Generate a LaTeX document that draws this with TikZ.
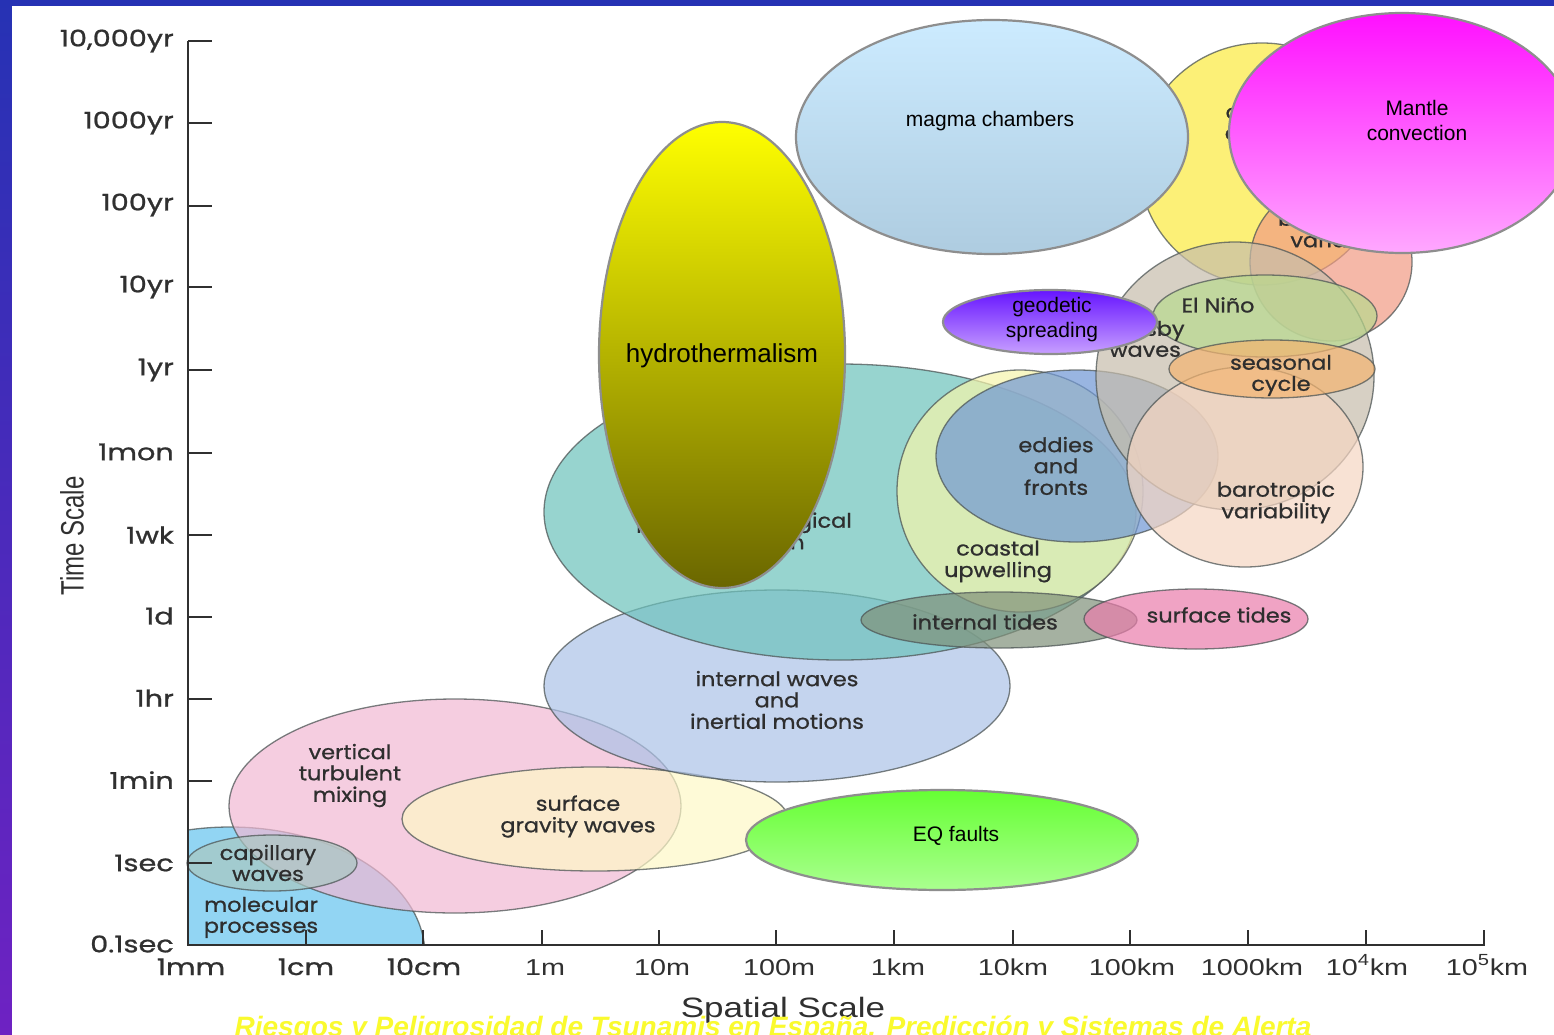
\documentclass[tikz,border=0pt]{standalone}
\usepackage{fontspec}
\setmainfont{Liberation Sans}
\newfontfamily\popfont[FakeBold=0.8]{Poppins}
\usepackage{graphicx}
\definecolor{bordtop}{HTML}{2632B4}
\definecolor{bordbot}{HTML}{6E22C2}
\definecolor{cMol}{HTML}{92D5F3}
\definecolor{cPink}{HTML}{F1B8D3}
\definecolor{cCream}{HTML}{FEF9C7}
\definecolor{cCap}{HTML}{AAC8C1}
\definecolor{cIW}{HTML}{ACC2E7}
\definecolor{cTeal}{HTML}{6CC2BC}
\definecolor{cCoast}{HTML}{F6F5AB}
\definecolor{cEddy}{HTML}{6F97D5}
\definecolor{cIT}{HTML}{80917A}
\definecolor{cST}{HTML}{EA7DAB}
\definecolor{cYel}{HTML}{FCEB3E}
\definecolor{cSalm}{HTML}{F19B84}
\definecolor{cRoss}{HTML}{C7BDAB}
\definecolor{cBaro}{HTML}{F6D6C2}
\definecolor{cNino}{HTML}{B8DA8E}
\definecolor{cSeas}{HTML}{F4B470}
\definecolor{olc}{HTML}{4E5656}
\definecolor{labc}{HTML}{2E2E2E}
\definecolor{axc}{HTML}{303030}
\definecolor{geoline}{HTML}{8E8E8E}
\definecolor{footyel}{HTML}{FAFA2E}
\newcommand{\ocs}[1]{\scalebox{1.12}[1]{\begin{tabular}{@{}c@{}}#1\end{tabular}}}
\newcommand{\axs}[1]{\scalebox{1.25}[1]{#1}}
\newcommand{\axl}[1]{\scalebox{1.25}[1]{#1}}
\begin{document}
\begin{tikzpicture}[x=1pt,y=-1pt,
  ocean/.style={draw=olc, draw opacity=0.75, line width=1.3pt, fill opacity=0.7},
  geo/.style={draw=geoline, line width=2.2pt},
  olab/.style={font=\popfont\fontsize{20}{21}\selectfont, text=labc, inner sep=0pt, align=center},
  ylab/.style={font=\popfont\fontsize{23}{25}\selectfont, text=axc, anchor=east, inner sep=0pt},
  xlabp/.style={font=\popfont\fontsize{23}{25}\selectfont, text=axc, anchor=base, inner sep=0pt},
  xlabl/.style={font=\fontsize{23}{25}\selectfont, text=axc, anchor=base, inner sep=0pt},
  glab/.style={font=\fontsize{21}{25}\selectfont, text=black, align=center, inner sep=0pt},
  axisline/.style={draw=axc, line width=2.4pt},
  tickline/.style={draw=axc, line width=2pt}]
\useasboundingbox (0,0) rectangle (1554,1035);
% frame
\shade[top color=bordtop, bottom color=bordbot] (0,0) rectangle (1554,1035);
\fill[white] (12,6) rectangle (1554,1035);

% ---- ocean scales ----
\begin{scope}
  \clip (188,600) rectangle (700,945);
  \path[ocean, fill=cMol, fill opacity=1] (230,955) ellipse [x radius=195pt, y radius=128pt];
\end{scope}
\path[ocean, fill=cPink]  (455,806) ellipse [x radius=226pt, y radius=107pt];
\path[ocean, fill=cCream] (595,819) ellipse [x radius=193pt, y radius=52pt];
\path[ocean, fill=cCap]   (272,863) ellipse [x radius=85pt, y radius=28pt];
\path[ocean, fill=cIW]    (777,686) ellipse [x radius=233pt, y radius=96pt];
\path[ocean, fill=cTeal]  (840,512) ellipse [x radius=296pt, y radius=148pt];
\path[ocean, fill=cCoast] (1020,491) ellipse [x radius=123pt, y radius=121pt];
\path[ocean, fill=cEddy]  (1077,456) ellipse [x radius=141pt, y radius=86pt];
\path[ocean, fill=cIT]    (999,620) ellipse [x radius=138pt, y radius=28pt];
\path[ocean, fill=cST]    (1196,619) ellipse [x radius=112pt, y radius=30pt];
\path[ocean, fill=cYel]   (1262,164) ellipse [x radius=123pt, y radius=121pt];
\path[ocean, fill=cSalm]  (1331,262) ellipse [x radius=81pt, y radius=79pt];
\path[ocean, fill=cRoss]  (1235,376) ellipse [x radius=139pt, y radius=134pt];
\path[ocean, fill=cBaro]  (1245,467) ellipse [x radius=118pt, y radius=100pt];
\path[ocean, fill=cNino]  (1265,316) ellipse [x radius=112pt, y radius=41pt];
\path[ocean, fill=cSeas]  (1272,369) ellipse [x radius=103pt, y radius=29pt];

% ---- axes ----
\draw[axisline] (188,41) -- (188,945) -- (1485,945);
\foreach \yy in {41,123,206,287,370,453,535,617,699,781,863}
  \draw[tickline] (188,\yy) -- (212,\yy);
\foreach \xx in {306,423,542,659,776,894,1013,1130,1248,1366,1484}
  \draw[tickline] (\xx,945) -- (\xx,930);

\node[ylab] (y10k) at (174,41)  {\axs{10,000yr}};
\node[ylab] (y1k)  at (174,123) {\axs{1000yr}};
\node[ylab] (y100) at (174,205) {\axs{100yr}};
\node[ylab] (y10)  at (174,287) {\axs{10yr}};
\node[ylab] (y1)   at (174,370) {\axs{1yr}};
\node[ylab] (ymon) at (174,452) {\axs{1mon}};
\node[ylab] (ywk)  at (174,535) {\axs{1wk}};
\node[ylab] (yd)   at (174,616) {\axs{1d}};
\node[ylab] (yhr)  at (174,698) {\axs{1hr}};
\node[ylab] (ymin) at (174,780) {\axs{1min}};
\node[ylab] (ysec) at (174,863) {\axs{1sec}};
\node[ylab] (ys01) at (174,944) {\axs{0.1sec}};

\node[xlabp] (xmm)  at (191,975)  {\axs{1mm}};
\node[xlabp] (xcm)  at (306,975)  {\axs{1cm}};
\node[xlabp] (x10cm) at (424,975) {\axs{10cm}};
\node[xlabl] (xm)   at (545,975)  {\axl{1m}};
\node[xlabl] (x10m) at (662,975)  {\axl{10m}};
\node[xlabl] (x100m) at (779,975) {\axl{100m}};
\node[xlabl] (xkm)  at (898,975)  {\axl{1km}};
\node[xlabl] (x10km) at (1013,975) {\axl{10km}};
\node[xlabl] (x100km) at (1132,975) {\axl{100km}};
\node[xlabl] (x1000km) at (1252,975) {\axl{1000km}};
\node[xlabl] (x4km) at (1367,975) {\axl{10\textsuperscript{4}km}};
\node[xlabl] (x5km) at (1487,975) {\axl{10\textsuperscript{5}km}};

\node[text=axc, rotate=90, inner sep=0pt] (tscale) at (72,536)
  {\scalebox{1}[1.35]{\fontsize{24}{26}\selectfont Time Scale}};
\node[text=axc, anchor=base, inner sep=0pt] (sscale) at (783,1017)
  {\scalebox{1.25}[1]{\fontsize{28}{30}\selectfont Spatial Scale}};

% ---- ocean labels ----
\node[olab] (lmix)  at (350,776) {\ocs{vertical\\turbulent\\mixing}};
\node[olab] (lsgw)  at (578,817) {\ocs{surface\\gravity waves}};
\node[olab] (lcap)  at (268,866) {\ocs{capillary\\waves}};
\node[olab] (lmol)  at (261,918) {\ocs{molecular\\processes}};
\node[olab] (liw)   at (777,703) {\ocs{internal waves\\and\\inertial motions}};
\node[olab] (lbio)  at (744,534) {\ocs{physical-biological\\interaction}};
\node[olab] (lit)   at (985,625) {\ocs{internal tides}};
\node[olab] (lst)   at (1219,618) {\ocs{surface tides}};
\node[olab] (lcoast) at (998,562) {\ocs{coastal\\upwelling}};
\node[olab] (leddy) at (1056,469) {\ocs{eddies\\and\\fronts}};
\node[olab] (lbaro) at (1276,503) {\ocs{barotropic\\variability}};
\node[olab] (lseas) at (1281,376) {\ocs{seasonal\\cycle}};
\node[olab] (lnino) at (1218,308) {\ocs{El Niño}};
\node[olab] (lross) at (1145,342) {\ocs{Rossby\\waves}};
\node[olab] (lbasin) at (1345,232) {\ocs{basin-scale\\variability}};
\node[olab] (lclim) at (1268,125) {\ocs{climate\\change}};

% ---- geological processes ----
\path[geo, top color=yellow, middle color={rgb,255:red,190;green,190;blue,0}, bottom color={rgb,255:red,106;green,102;blue,0}]
  (722,355) ellipse [x radius=123pt, y radius=233pt];
\node[glab, font=\fontsize{26}{30}\selectfont] (lhydro) at (722,356) {hydrothermalism};

\path[geo, top color={rgb,255:red,204;green,235;blue,255}, bottom color={rgb,255:red,174;green,204;blue,224}]
  (992,137) ellipse [x radius=196pt, y radius=117pt];
\node[glab] (lmagma) at (990,121) {magma chambers};

\path[geo, top color={rgb,255:red,255;green,16;blue,255}, bottom color={rgb,255:red,255;green,168;blue,255}]
  (1402,133) ellipse [x radius=173pt, y radius=120pt];
\node[glab] (lmantle) at (1417,120) {Mantle\\convection};

\path[geo, top color={rgb,255:red,102;green,20;blue,255}, bottom color={rgb,255:red,200;green,160;blue,255}]
  (1050,322) ellipse [x radius=107pt, y radius=32pt];
\node[glab] (lgeod) at (1052,320) {geodetic\\spreading};

\path[geo, top color={rgb,255:red,102;green,255;blue,51}, bottom color={rgb,255:red,170;green,255;blue,144}]
  (942,840) ellipse [x radius=196pt, y radius=50pt];
\node[glab] (leq) at (956,836) {EQ faults};

% ---- footer ----
\node[anchor=base, inner sep=0pt, text=footyel, font=\bfseries\itshape\fontsize{28}{30}\selectfont] (foot) at (773,1036)
  {Riesgos y Peligrosidad de Tsunamis en España. Predicción y Sistemas de Alerta};
\end{tikzpicture}
\end{document}
